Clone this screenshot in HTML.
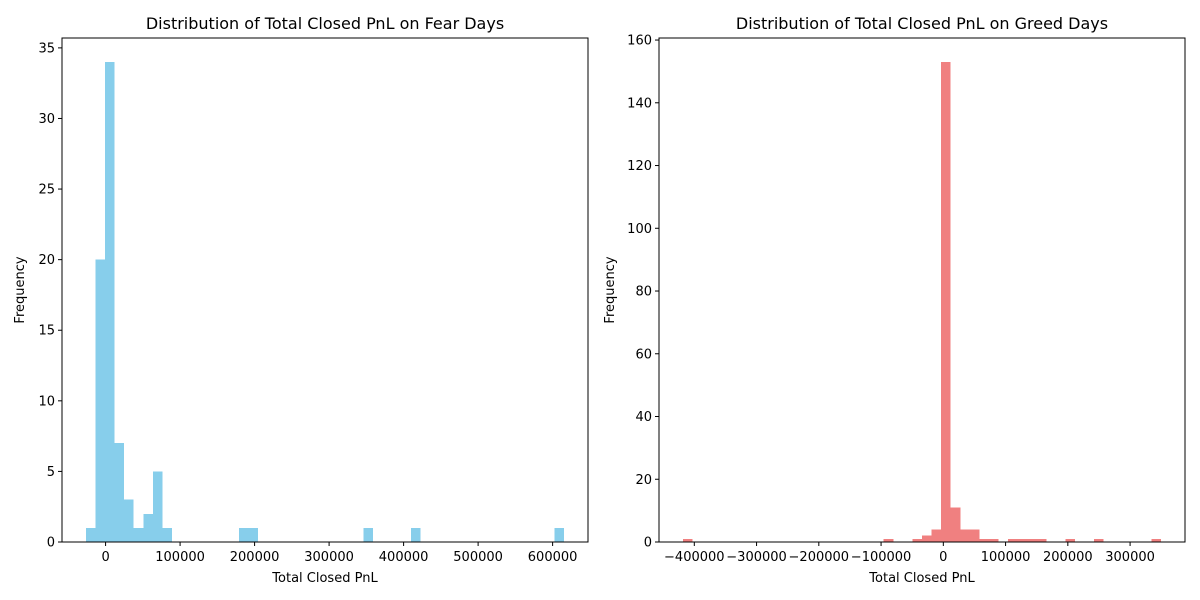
<!DOCTYPE html>
<html><head><meta charset="utf-8"><style>
html,body{margin:0;padding:0;background:#fff;}
svg{display:block;font-family:"DejaVu Sans","Liberation Sans",sans-serif;}
</style></head><body>
<svg id="chart" width="1200" height="600" viewBox="0 0 1200 600" xmlns="http://www.w3.org/2000/svg"></svg>
<script>
// Fear days histogram data
const fearCounts = [1,20,34,7,3,1,2,5,1,0,0,0,0,0,0,0,1,1,0,0,0,0,0,0,0,0,0,0,0,1,0,0,0,0,1,0,0,0,0,0,0,0,0,0,0,0,0,0,0,1];
const fearRange = [-26400, 615400];
const fearXTicks = [0,100000,200000,300000,400000,500000,600000];
const fearYTicks = [0,5,10,15,20,25,30,35];
// Greed days histogram data
const greedCounts = [1,0,0,0,0,0,0,0,0,0,0,0,0,0,0,0,0,0,0,0,0,1,0,0,1,2,4,153,11,4,4,1,1,0,1,1,1,1,0,0,1,0,0,1,0,0,0,0,0,1];
const greedRange = [-418300, 349800];
const greedXTicks = [-400000,-300000,-200000,-100000,0,100000,200000,300000];
const greedYTicks = [0,20,40,60,80,100,120,140,160];

const NS="http://www.w3.org/2000/svg";
const svg=document.getElementById('chart');
function mk(tag,attrs,parent){const e=document.createElementNS(NS,tag);for(const k in attrs)e.setAttribute(k,attrs[k]);(parent||svg).appendChild(e);return e;}

function drawPanel(opt){
  const {left,top,right,bottom,counts,range,xticks,yticks,color,title,prefix}=opt;
  const g=mk('g',{});
  
  
  const span=range[1]-range[0];
  const x0=range[0]-span*0.05, x1=range[1]+span*0.05;
  const ymax=Math.max(...counts)*1.05;
  const sx=v=>left+(v-x0)/(x1-x0)*(right-left);
  const sy=v=>bottom-v/ymax*(bottom-top);
  const bw=span/counts.length;
  counts.forEach((c,i)=>{
    if(c<=0)return;
    const a=sx(range[0]+i*bw), b=sx(range[0]+(i+1)*bw);
    const r=mk('rect',{x:a,y:sy(c),width:b-a,height:sy(0)-sy(c),fill:color,'shape-rendering':'crispEdges'},g);
    
    
  });
  const frame=mk('rect',{x:left,y:top,width:right-left,height:bottom-top,fill:'none',stroke:'#000','stroke-width':1},g);
  
  
  xticks.forEach(t=>{
    const x=sx(t);
    mk('line',{x1:x,x2:x,y1:bottom,y2:bottom+4,stroke:'#000'},g);
    const tx=mk('text',{x:x,y:bottom+19,'font-size':13,'text-anchor':'middle'},g);
    tx.textContent=(t<0?'\u2212':'')+Math.abs(t);
    
    
  });
  yticks.forEach(t=>{
    const y=sy(t);
    mk('line',{x1:left-4,x2:left,y1:y,y2:y,stroke:'#000'},g);
    const tx=mk('text',{x:left-7,y:y+4.5,'font-size':13,'text-anchor':'end'},g);
    tx.textContent=t;
    
    
  });
  const tt=mk('text',{x:(left+right)/2,y:top-9,'font-size':16,'text-anchor':'middle'},g);
  tt.textContent=title;
  
  
  const xl=mk('text',{x:(left+right)/2,y:bottom+40,'font-size':13,'text-anchor':'middle'},g);
  xl.textContent='Total Closed PnL';
  
  
  const yx=left-(prefix==='fear'?38:45), yy=(top+bottom)/2;
  const yl=mk('text',{x:yx,y:yy,'font-size':13,'text-anchor':'middle',transform:`rotate(-90 ${yx} ${yy})`},g);
  yl.textContent='Frequency';
  
  
}
drawPanel({left:62,top:38,right:588,bottom:542,counts:fearCounts,range:fearRange,xticks:fearXTicks,yticks:fearYTicks,color:'#87ceeb',title:'Distribution of Total Closed PnL on Fear Days',prefix:'fear'});
drawPanel({left:659,top:38,right:1185,bottom:542,counts:greedCounts,range:greedRange,xticks:greedXTicks,yticks:greedYTicks,color:'#f08080',title:'Distribution of Total Closed PnL on Greed Days',prefix:'greed'});
</script>
</body></html>
